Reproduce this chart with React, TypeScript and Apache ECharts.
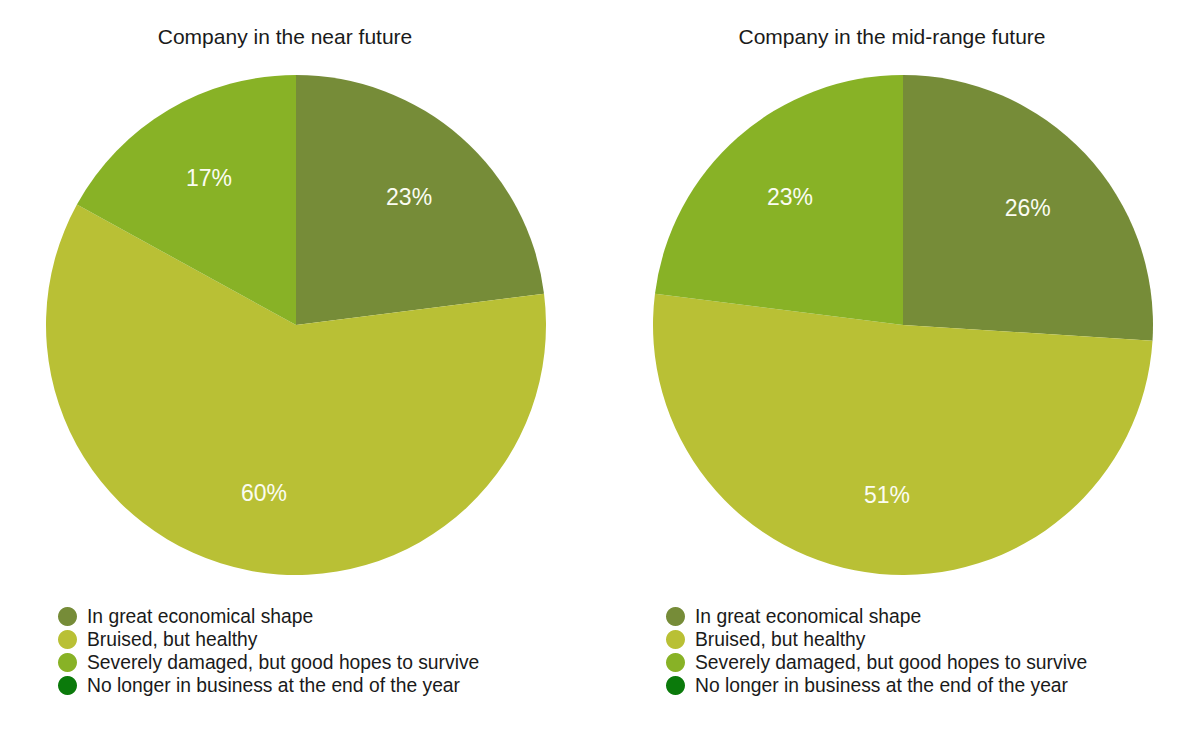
import React, { useEffect, useRef } from "react";
import * as echarts from "echarts";

const categories = [
  "In great economical shape",
  "Bruised, but healthy",
  "Severely damaged, but good hopes to survive",
  "No longer in business at the end of the year",
];
const nearFuture = [23, 60, 17, 0];
const midRange = [26, 51, 23, 0];
const titles = ["Company in the near future", "Company in the mid-range future"];
const colors = ["#768C38", "#B9C035", "#88B226", "#0B7A0B"];

const FONT = "'Liberation Sans', Arial, Helvetica, sans-serif";

export default function App() {
  const ref = useRef<HTMLDivElement>(null);
  useEffect(() => {
    if (!ref.current) return;
    const chart = echarts.init(ref.current, null, { renderer: "svg" });
    const centers: [number, number][] = [
      [296, 325],
      [903, 325],
    ];
    const datasets = [nearFuture, midRange];
    const series: any[] = [];
    datasets.forEach((vals, i) => {
      const data = categories.map((c, j) => ({ name: c, value: vals[j] }));
      series.push({
        type: "pie",
        name: titles[i],
        center: centers[i],
        radius: [0, 250],
        startAngle: 90,
        clockwise: true,
        avoidLabelOverlap: false,
        label: { show: false },
        labelLine: { show: false },
        itemStyle: { borderWidth: 0 },
        emphasis: { disabled: true },
        data,
      });
      series.push({
        type: "pie",
        name: titles[i] + " labels",
        center: centers[i],
        radius: [86, 250],
        startAngle: 90,
        clockwise: true,
        silent: true,
        avoidLabelOverlap: false,
        legendHoverLink: false,
        itemStyle: { color: "rgba(0,0,0,0)", borderWidth: 0 },
        label: {
          show: true,
          position: "inside",
          color: "#fbfcf2",
          fontSize: 23,
          fontFamily: FONT,
          formatter: (p: any) => (p.value ? p.value + "%" : ""),
        },
        labelLine: { show: false },
        emphasis: { disabled: true },
        data: categories.map((c, j) => ({ name: c + " ", value: vals[j] })),
      });
    });
    const titleStyle = { fontSize: 21, fontWeight: "normal", color: "#1a1a1a", fontFamily: FONT };
    const legendBase = {
      orient: "vertical",
      top: 602,
      icon: "circle",
      itemWidth: 19,
      itemHeight: 19,
      itemGap: 4,
      data: categories,
      selectedMode: false,
      textStyle: { fontSize: 19.3, color: "#1a1a1a", fontFamily: FONT, padding: [0, 0, 0, 5] },
    };
    chart.setOption({
      animation: false,
      backgroundColor: "#ffffff",
      color: colors,
      title: [
        { text: titles[0], left: 280, top: 21, textAlign: "center", textStyle: titleStyle },
        { text: titles[1], left: 887, top: 21, textAlign: "center", textStyle: titleStyle },
      ],
      legend: [
        { ...legendBase, left: 53 },
        { ...legendBase, left: 661 },
      ],
      series,
    });
    return () => chart.dispose();
  }, []);
  return (
    <div
      ref={ref}
      style={{ position: "fixed", left: 0, top: 0, width: 1200, height: 733, background: "#fff" }}
    />
  );
}
